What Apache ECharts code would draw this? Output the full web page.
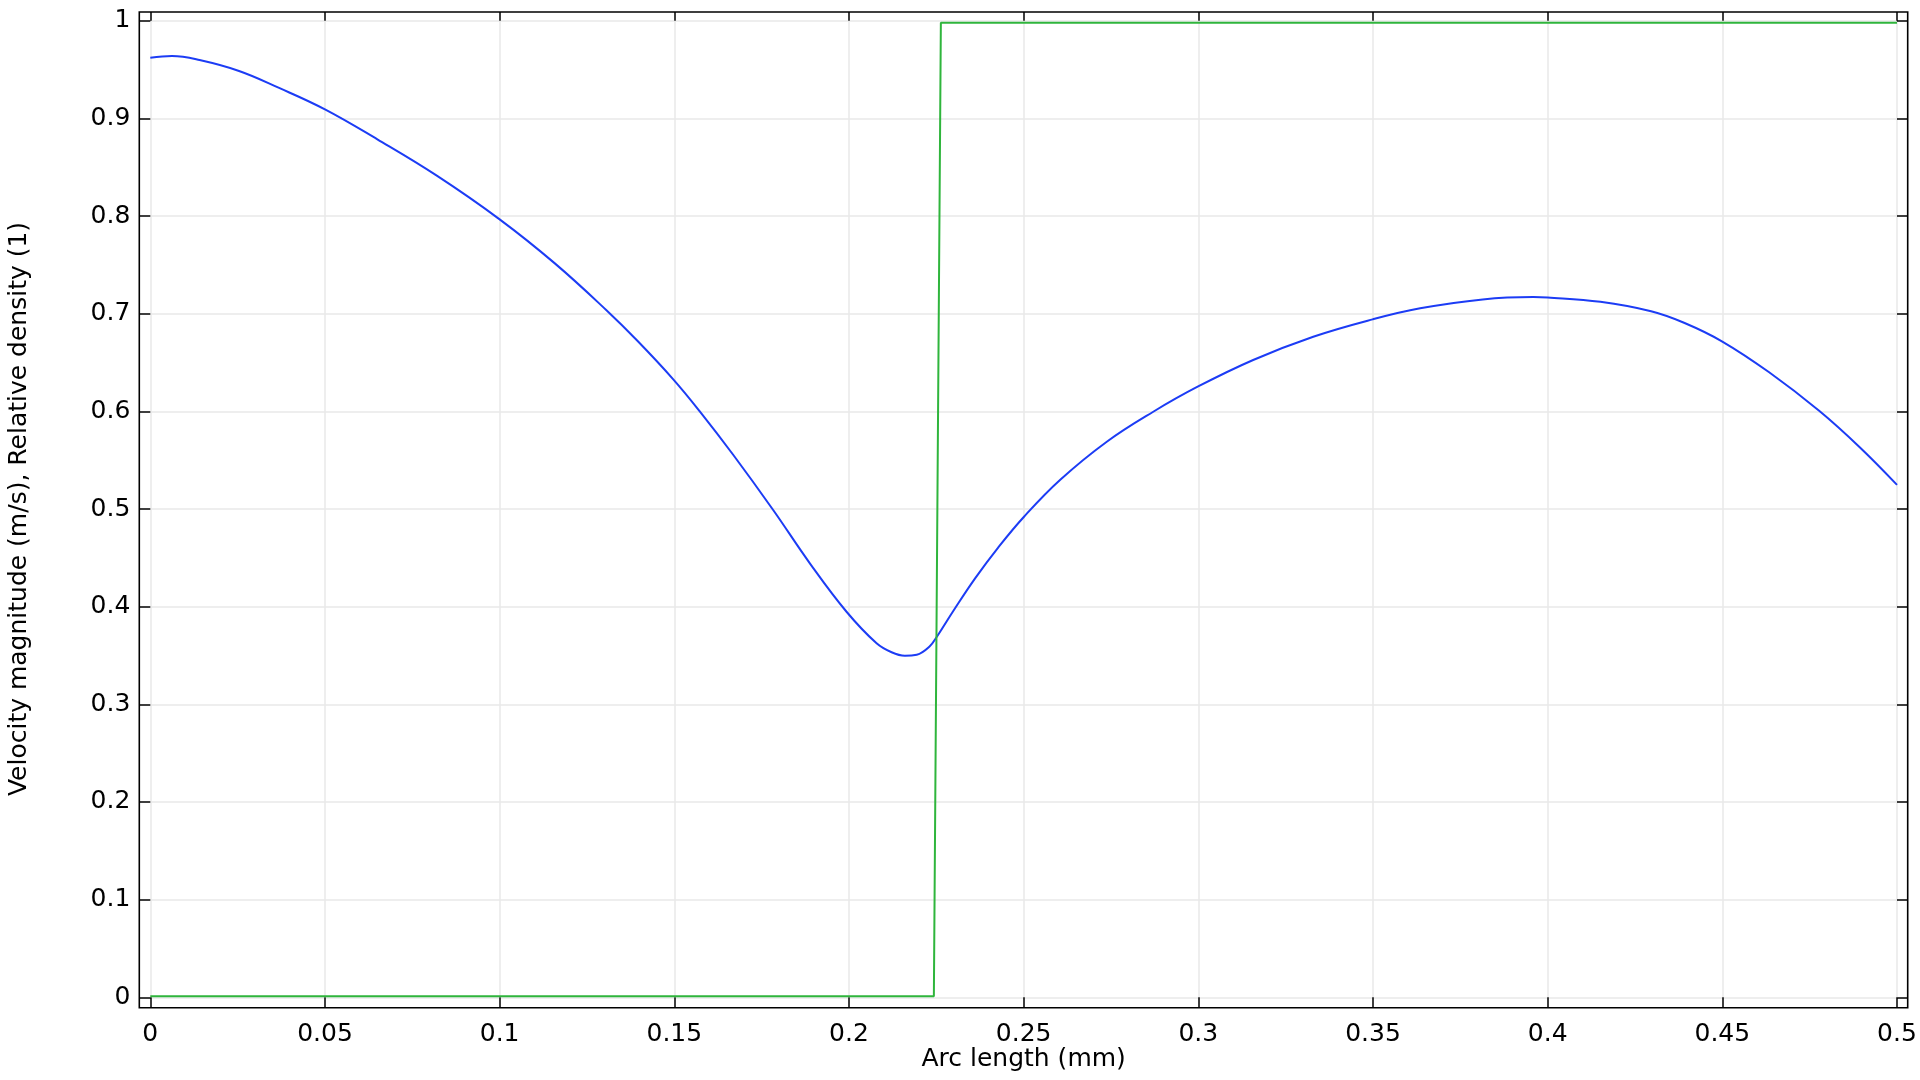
<!DOCTYPE html>
<html>
<head>
<meta charset="utf-8">
<script src="https://cdn.jsdelivr.net/npm/echarts@6/dist/echarts.min.js"></script>
<style>
html,body{margin:0;padding:0;background:#fff;}
#chart{width:1920px;height:1080px;}
</style>
</head>
<body>
<div id="chart"></div>
<script>
// Arc length (mm) and velocity magnitude (m/s)
const arcLength = [0, 0.0062, 0.0141, 0.0254, 0.0367, 0.05, 0.065, 0.0819, 0.1, 0.1158, 0.1305, 0.1395, 0.1497, 0.1574, 0.1669, 0.1783, 0.1888, 0.1993, 0.2079, 0.2122, 0.216, 0.2194, 0.223, 0.2253, 0.2299, 0.2361, 0.2427, 0.2501, 0.2604, 0.2738, 0.2871, 0.2998, 0.3157, 0.3329, 0.3499, 0.3635, 0.3814, 0.3959, 0.4, 0.4151, 0.4296, 0.4392, 0.45, 0.4634, 0.4778, 0.4894, 0.5];
const velocity = [0.962, 0.9638, 0.9597, 0.9485, 0.9314, 0.9092, 0.8785, 0.8416, 0.7966, 0.7515, 0.7038, 0.672, 0.6328, 0.5995, 0.5553, 0.499, 0.4444, 0.3948, 0.3625, 0.3533, 0.3498, 0.3508, 0.359, 0.37, 0.3958, 0.429, 0.4605, 0.4921, 0.5297, 0.5689, 0.5996, 0.6252, 0.6526, 0.6764, 0.6942, 0.7055, 0.7146, 0.717, 0.7166, 0.7122, 0.7025, 0.6905, 0.6715, 0.64, 0.6003, 0.563, 0.5247];
// Relative density (1)
const densityArc = [0, 0.2243, 0.2263, 0.5];
const density = [0.001, 0.001, 0.998, 0.998];

const xTitle = 'Arc length (mm)';
const yTitle = 'Velocity magnitude (m/s), Relative density (1)';
const xMin = 0, xMax = 0.5, xStep = 0.05;
const yMin = 0, yMax = 1, yStep = 0.1;

const font = 'DejaVu Sans';
const fs = 25;
const velData = arcLength.map((x, i) => [x, velocity[i]]);
const denData = densityArc.map((x, i) => [x, density[i]]);

const chart = echarts.init(document.getElementById('chart'), null, {renderer: 'canvas'});
const tickStyle = {color: '#000', width: 1.5};
const noLine = {show: false, onZero: false};
chart.setOption({
  animation: false,
  backgroundColor: '#fff',
  grid: [
    {left: 150.3, right: 23, top: 20.7, bottom: 82.7, containLabel: false, outerBoundsMode: 'none'},
    {left: 139.3, right: 12.3, top: 12, bottom: 72.3, containLabel: false, outerBoundsMode: 'none',
     show: true, borderColor: '#000', borderWidth: 1.6, backgroundColor: 'transparent', z: 5}
  ],
  xAxis: [
    {
      type: 'value', gridIndex: 0, min: xMin, max: xMax, interval: xStep, position: 'bottom',
      axisLine: noLine,
      axisTick: {show: true, inside: false, length: 10.4, lineStyle: tickStyle},
      axisLabel: {show: true, margin: 25, color: '#000', fontFamily: font, fontSize: fs},
      splitLine: {show: true, lineStyle: {color: '#e8e8e8', width: 1.5}},
      name: xTitle, nameLocation: 'middle', nameGap: 49.5, nameMoveOverlap: false,
      nameTextStyle: {color: '#000', fontFamily: font, fontSize: fs}
    },
    {
      type: 'value', gridIndex: 0, min: xMin, max: xMax, interval: xStep, position: 'top',
      axisLine: noLine,
      axisTick: {show: true, inside: false, length: 8.7, lineStyle: tickStyle},
      axisLabel: {show: false}, splitLine: {show: false}
    },
    {type: 'value', gridIndex: 1, show: false, min: 0, max: 1, axisLine: noLine}
  ],
  yAxis: [
    {
      type: 'value', gridIndex: 0, min: yMin, max: yMax, interval: yStep, position: 'left',
      axisLine: noLine,
      axisTick: {show: true, inside: false, length: 11, lineStyle: tickStyle},
      axisLabel: {show: true, margin: 20, color: '#000', fontFamily: font, fontSize: fs},
      splitLine: {show: true, lineStyle: {color: '#e8e8e8', width: 1.5}},
      name: yTitle, nameLocation: 'middle', nameGap: 118, nameMoveOverlap: false,
      nameTextStyle: {color: '#000', fontFamily: font, fontSize: fs}
    },
    {
      type: 'value', gridIndex: 0, min: yMin, max: yMax, interval: yStep, position: 'right',
      axisLine: noLine,
      axisTick: {show: true, inside: false, length: 10.7, lineStyle: tickStyle},
      axisLabel: {show: false}, splitLine: {show: false}
    },
    {type: 'value', gridIndex: 1, show: false, min: 0, max: 1, axisLine: noLine}
  ],
  series: [
    {
      type: 'line', name: 'Velocity magnitude', xAxisIndex: 0, yAxisIndex: 0,
      data: velData, showSymbol: false, symbol: 'none', smooth: 0.4,
      lineStyle: {color: '#1c3cf5', width: 2}, clip: false
    },
    {
      type: 'line', name: 'Relative density', xAxisIndex: 0, yAxisIndex: 0,
      data: denData, showSymbol: false, symbol: 'none', smooth: false,
      lineStyle: {color: '#2fb53c', width: 2}, clip: false
    }
  ]
});
</script>
</body>
</html>
